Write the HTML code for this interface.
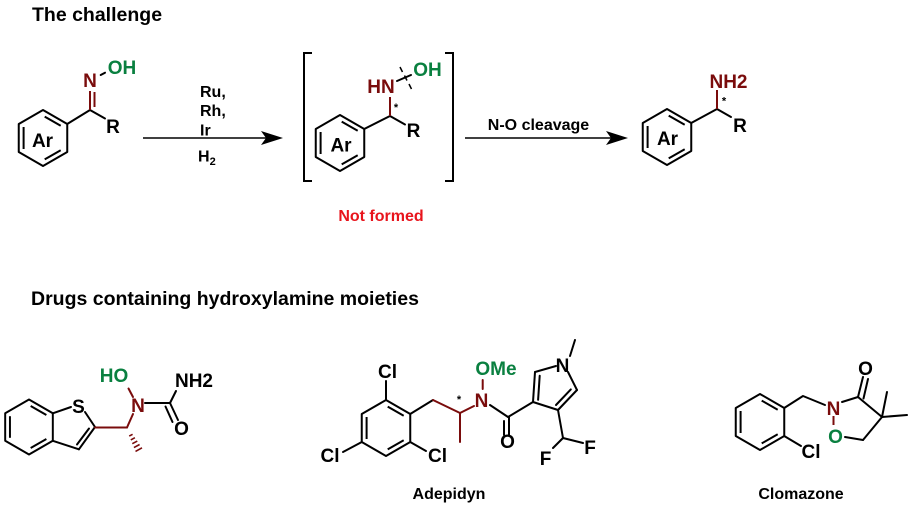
<!DOCTYPE html>
<html><head><meta charset="utf-8"><style>
html,body{margin:0;padding:0;background:#fff;}
svg{display:block;}
text{font-family:"Liberation Sans",Arial,sans-serif;font-weight:bold;}
</style></head><body>
<svg width="911" height="507" viewBox="0 0 911 507" xmlns="http://www.w3.org/2000/svg">
<defs>
<g id="hex" fill="none" stroke="#000" stroke-width="2" stroke-linejoin="round">
<polygon points="0,-28 24.25,-14 24.25,14 0,28 -24.25,14 -24.25,-14"/>
<line x1="-19.4" y1="-11" x2="-19.4" y2="11"/>
<line x1="1.7" y1="-21.4" x2="17.7" y2="-12.2"/>
<line x1="17.7" y1="12.2" x2="1.7" y2="21.4"/>
</g>
</defs>
<rect width="911" height="507" fill="#fff"/>

<!-- Headers -->
<text x="32" y="21" font-size="19.5">The challenge</text>
<text x="31" y="305" font-size="19.5">Drugs containing hydroxylamine moieties</text>

<!-- Molecule 1: oxime -->
<use href="#hex" x="43" y="138"/>
<text x="42.5" y="147" font-size="19" text-anchor="middle">Ar</text>
<g stroke="#000" stroke-width="2" fill="none" stroke-linecap="round">
<line x1="67.2" y1="124" x2="90" y2="110"/>
<line x1="90" y1="110" x2="105" y2="118.5"/>
<line x1="100.7" y1="75" x2="105" y2="72.7"/>
</g>
<g stroke="#7a0c0c" stroke-width="2" fill="none">
<line x1="90" y1="110" x2="90" y2="91"/>
<line x1="94.5" y1="107" x2="94.5" y2="92"/>
</g>
<text x="113" y="133" font-size="19" text-anchor="middle">R</text>
<text x="90" y="87" font-size="19" text-anchor="middle" fill="#7a0c0c">N</text>
<text x="122" y="74" font-size="19" text-anchor="middle" fill="#0a8040">OH</text>

<!-- Arrow 1 -->
<line x1="143" y1="138" x2="268" y2="138" stroke="#000" stroke-width="1.5"/>
<polygon points="283,138 261,131 266,138 261,145" fill="#000"/>
<text x="200" y="97" font-size="16">Ru,</text>
<text x="200" y="116" font-size="16">Rh,</text>
<text x="200" y="135.5" font-size="16">Ir</text>
<text x="198" y="161.5" font-size="16">H<tspan font-size="11" dy="3.5">2</tspan></text>

<!-- Brackets -->
<path d="M312,53 H304 V181 H312" fill="none" stroke="#000" stroke-width="2"/>
<path d="M445,53 H453 V181 H445" fill="none" stroke="#000" stroke-width="2"/>

<!-- Molecule 2 -->
<use href="#hex" x="340" y="143"/>
<text x="341" y="151.5" font-size="19" text-anchor="middle">Ar</text>
<g stroke="#000" stroke-width="2" fill="none" stroke-linecap="round">
<line x1="364.2" y1="129" x2="390" y2="116"/>
<line x1="390" y1="116" x2="405" y2="124.5"/>
<line x1="397" y1="81" x2="411" y2="75"/>
</g>
<g stroke="#000" stroke-width="1.5">
<line x1="400" y1="67" x2="402.5" y2="72"/>
<line x1="404.5" y1="75.5" x2="407" y2="80.5"/>
<line x1="409" y1="84" x2="411.5" y2="89"/>
</g>
<line x1="390" y1="116" x2="390" y2="97" stroke="#7a0c0c" stroke-width="2"/>
<text x="396" y="111" font-size="11" text-anchor="middle">*</text>
<text x="413.5" y="137" font-size="19" text-anchor="middle">R</text>
<text x="381" y="93" font-size="19" text-anchor="middle" fill="#7a0c0c">HN</text>
<text x="427.5" y="76" font-size="19" text-anchor="middle" fill="#0a8040">OH</text>
<text x="381" y="221" font-size="16" text-anchor="middle" fill="#e8141c">Not formed</text>

<!-- Arrow 2 -->
<line x1="465" y1="138" x2="613" y2="138" stroke="#000" stroke-width="1.5"/>
<polygon points="628,138 606,131 611,138 606,145" fill="#000"/>
<text x="538.5" y="130" font-size="16" text-anchor="middle">N-O cleavage</text>

<!-- Molecule 3 -->
<use href="#hex" x="667" y="137"/>
<text x="667.5" y="145" font-size="19" text-anchor="middle">Ar</text>
<g stroke="#000" stroke-width="2" fill="none" stroke-linecap="round">
<line x1="691.2" y1="123" x2="717" y2="109"/>
<line x1="717" y1="109" x2="731" y2="117"/>
</g>
<line x1="717" y1="109" x2="717" y2="90" stroke="#7a0c0c" stroke-width="2"/>
<text x="724" y="104.5" font-size="11" text-anchor="middle">*</text>
<text x="740" y="132" font-size="19" text-anchor="middle">R</text>
<text x="728.5" y="88" font-size="19" text-anchor="middle" fill="#7a0c0c">NH2</text>

<!-- Molecule 4: benzothiophene hydroxyurea -->
<use href="#hex" x="29" y="427" transform="translate(29,427) scale(0.982) translate(-29,-427)"/>
<g stroke="#000" stroke-width="2" fill="none" stroke-linecap="round" stroke-linejoin="round">
<line x1="52.8" y1="413.3" x2="71" y2="407"/>
<line x1="85" y1="412" x2="95" y2="427"/>
<line x1="95" y1="427" x2="78.9" y2="449.3"/>
<line x1="89" y1="428.5" x2="77" y2="444.5"/>
<line x1="78.9" y1="449.3" x2="52.8" y2="440.8"/>
<line x1="145" y1="403" x2="170" y2="403"/>
<line x1="170" y1="403" x2="176" y2="391"/>
<line x1="170" y1="403" x2="178" y2="420"/>
<line x1="165.5" y1="406.5" x2="172.5" y2="422"/>
</g>
<g stroke="#7a0c0c" stroke-width="2" fill="none" stroke-linecap="round">
<line x1="95" y1="427.5" x2="127" y2="427.5"/>
<line x1="127" y1="427.5" x2="133" y2="414"/>
<line x1="133" y1="397" x2="128.5" y2="388.5"/>
</g>
<g stroke="#7a0c0c" stroke-width="1.6">
<line x1="129.2" y1="436.1" x2="132.6" y2="434.3"/>
<line x1="130.8" y1="439.9" x2="134.9" y2="437.7"/>
<line x1="132.3" y1="443.7" x2="137.3" y2="441.1"/>
<line x1="133.9" y1="447.6" x2="139.6" y2="444.5"/>
<line x1="135.5" y1="451.4" x2="142" y2="447.8"/>
</g>
<text x="78.5" y="413" font-size="19" text-anchor="middle">S</text>
<text x="114" y="382" font-size="19" text-anchor="middle" fill="#0a8040">HO</text>
<text x="138" y="412" font-size="19" text-anchor="middle" fill="#7a0c0c">N</text>
<text x="194" y="387" font-size="19" text-anchor="middle">NH2</text>
<text x="181.5" y="435" font-size="19" text-anchor="middle">O</text>

<!-- Molecule 5: Adepidyn -->
<use href="#hex" x="386" y="428"/>
<g stroke="#000" stroke-width="2" fill="none" stroke-linecap="round" stroke-linejoin="round">
<line x1="386" y1="400" x2="386" y2="381"/>
<line x1="361.8" y1="442" x2="343" y2="452"/>
<line x1="410.2" y1="442" x2="426" y2="451"/>
<line x1="410.2" y1="414" x2="433" y2="400"/>
<line x1="490" y1="405" x2="508" y2="417"/>
<line x1="509" y1="417" x2="509" y2="435"/>
<line x1="504" y1="421" x2="504" y2="435"/>
<line x1="508" y1="417" x2="533" y2="402"/>
<line x1="533" y1="402" x2="535" y2="372"/>
<line x1="538.1" y1="399.8" x2="539.7" y2="375.8"/>
<line x1="535" y1="372" x2="556" y2="366"/>
<line x1="568" y1="372" x2="577" y2="390"/>
<line x1="577" y1="390" x2="558" y2="410"/>
<line x1="570.8" y1="389.4" x2="556" y2="405"/>
<line x1="558" y1="410" x2="533" y2="402"/>
<line x1="570" y1="356" x2="575" y2="340"/>
<line x1="558" y1="410" x2="563" y2="438"/>
<line x1="563" y1="438" x2="553" y2="448"/>
<line x1="563" y1="438" x2="583" y2="443"/>
</g>
<g stroke="#7a0c0c" stroke-width="2" fill="none" stroke-linecap="round" stroke-linejoin="round">
<polyline points="433,400 460,413 460,442"/>
<line x1="460" y1="413" x2="474" y2="406"/>
<line x1="482.7" y1="380" x2="482.7" y2="389"/>
</g>
<text x="459" y="403" font-size="11" text-anchor="middle">*</text>
<text x="387.5" y="378" font-size="19" text-anchor="middle">Cl</text>
<text x="330" y="462" font-size="19" text-anchor="middle">Cl</text>
<text x="437.5" y="462" font-size="19" text-anchor="middle">Cl</text>
<text x="481.5" y="407" font-size="19" text-anchor="middle" fill="#7a0c0c">N</text>
<text x="496" y="375" font-size="19" text-anchor="middle" fill="#0a8040">OMe</text>
<text x="507.5" y="448" font-size="19" text-anchor="middle">O</text>
<text x="562.5" y="372" font-size="19" text-anchor="middle">N</text>
<text x="545.5" y="465" font-size="19" text-anchor="middle">F</text>
<text x="590" y="454" font-size="19" text-anchor="middle">F</text>
<text x="449" y="499" font-size="16" text-anchor="middle">Adepidyn</text>

<!-- Molecule 6: Clomazone -->
<use href="#hex" x="760" y="422"/>
<g stroke="#000" stroke-width="2" fill="none" stroke-linecap="round" stroke-linejoin="round">
<line x1="784.2" y1="436" x2="801" y2="446"/>
<polyline points="784.2,408 803,396 825,405"/>
<line x1="842" y1="402" x2="858" y2="397"/>
<line x1="858" y1="397" x2="863" y2="377"/>
<line x1="863.5" y1="398.5" x2="868" y2="379"/>
<line x1="858" y1="397" x2="882" y2="417"/>
<line x1="882" y1="417" x2="887" y2="392"/>
<line x1="882" y1="417" x2="907" y2="415"/>
<line x1="882" y1="417" x2="863" y2="440"/>
<line x1="863" y1="440" x2="845" y2="437"/>
</g>
<line x1="833.5" y1="416" x2="833.5" y2="425" stroke="#7a0c0c" stroke-width="2"/>
<text x="811" y="458" font-size="19" text-anchor="middle">Cl</text>
<text x="833.5" y="415" font-size="19" text-anchor="middle" fill="#7a0c0c">N</text>
<text x="835.5" y="443" font-size="19" text-anchor="middle" fill="#0a8040">O</text>
<text x="865.5" y="375" font-size="19" text-anchor="middle">O</text>
<text x="801" y="499" font-size="16" text-anchor="middle">Clomazone</text>
</svg>
</body></html>
